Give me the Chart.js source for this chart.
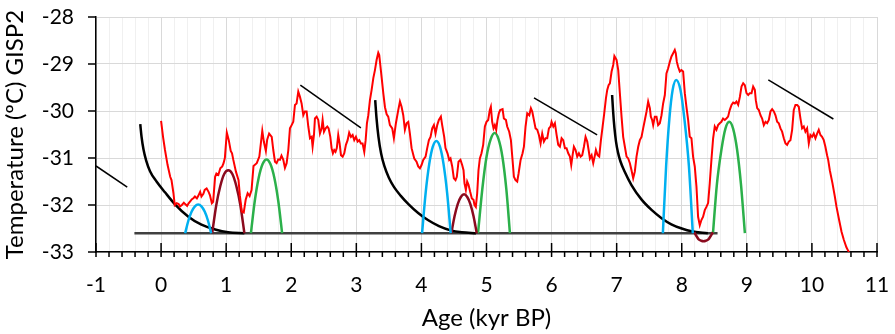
<!DOCTYPE html>
<html>
<head>
<meta charset="utf-8">
<script src="https://cdn.jsdelivr.net/npm/chart.js@4.4.1/dist/chart.umd.min.js"></script>
<style>
  html, body { margin: 0; padding: 0; background: #fff; }
  #wrap { width: 895px; height: 334px; }
</style>
</head>
<body>
<div id="wrap"><canvas id="chart" width="895" height="334"></canvas></div>
<script>
'use strict';

// axis ranges
const ageRange = [-1, 11];
const tempRange = [-33, -28];

// GISP2 temperature record (kyr BP, deg C)
const gispAge = [
  0.00, 0.03, 0.06, 0.10, 0.14, 0.16, 0.19, 0.21, 0.24, 0.27, 0.29, 0.32, 0.35, 0.37, 0.40, 0.42,
  0.45, 0.47, 0.50, 0.52, 0.55, 0.57, 0.60, 0.62, 0.65, 0.67, 0.70, 0.73, 0.75, 0.78, 0.80, 0.83,
  0.85, 0.88, 0.91, 0.94, 0.96, 0.98, 1.01, 1.04, 1.07, 1.09, 1.11, 1.15, 1.19, 1.21, 1.24, 1.27,
  1.30, 1.33, 1.36, 1.39, 1.42, 1.47, 1.51, 1.555, 1.58, 1.61, 1.63, 1.66, 1.70, 1.724, 1.75, 1.775,
  1.80, 1.826, 1.85, 1.878, 1.903, 1.929, 1.955, 1.98, 2.006, 2.031, 2.057, 2.082, 2.108, 2.134, 2.159, 2.185,
  2.21, 2.236, 2.262, 2.288, 2.313, 2.328, 2.349, 2.364, 2.39, 2.415, 2.441, 2.467, 2.482, 2.503, 2.528, 2.554,
  2.574, 2.60, 2.62, 2.64, 2.66, 2.68, 2.70, 2.722, 2.743, 2.764, 2.79, 2.815, 2.84, 2.866, 2.89, 2.917,
  2.943, 2.968, 2.994, 3.02, 3.045, 3.07, 3.096, 3.122, 3.143, 3.163, 3.184, 3.209, 3.235, 3.261, 3.286, 3.312,
  3.337, 3.352, 3.368, 3.39, 3.414, 3.44, 3.466, 3.49, 3.516, 3.552, 3.577, 3.608, 3.644, 3.670, 3.695, 3.721,
  3.746, 3.772, 3.798, 3.823, 3.849, 3.89, 3.925, 3.951, 3.977, 4.002, 4.028, 4.064, 4.089, 4.115, 4.14, 4.166,
  4.192, 4.217, 4.243, 4.268, 4.299, 4.319, 4.35, 4.37, 4.401, 4.427, 4.447, 4.473, 4.498, 4.524, 4.544, 4.57,
  4.60, 4.626, 4.647, 4.662, 4.683, 4.703, 4.724, 4.749, 4.775, 4.80, 4.816, 4.836, 4.857, 4.877, 4.898, 4.923,
  4.949, 4.975, 5.00, 5.026, 5.051, 5.067, 5.087, 5.108, 5.128, 5.149, 5.169, 5.19, 5.21, 5.247, 5.267, 5.298,
  5.318, 5.349, 5.375, 5.40, 5.421, 5.446, 5.472, 5.493, 5.524, 5.554, 5.575, 5.60, 5.626, 5.657, 5.682, 5.703,
  5.728, 5.754, 5.78, 5.805, 5.831, 5.856, 5.882, 5.908, 5.933, 5.959, 5.985, 6.00, 6.026, 6.051, 6.077, 6.102,
  6.128, 6.154, 6.179, 6.205, 6.23, 6.256, 6.282, 6.302, 6.323, 6.343, 6.369, 6.394, 6.42, 6.446, 6.471, 6.497,
  6.522, 6.548, 6.569, 6.589, 6.615, 6.64, 6.666, 6.681, 6.707, 6.732, 6.758, 6.784, 6.809, 6.835, 6.855, 6.876,
  6.896, 6.922, 6.947, 6.965, 6.998, 7.024, 7.049, 7.075, 7.10, 7.126, 7.152, 7.177, 7.203, 7.228, 7.254, 7.279,
  7.305, 7.331, 7.356, 7.382, 7.407, 7.433, 7.459, 7.484, 7.51, 7.525, 7.545, 7.561, 7.586, 7.612, 7.637, 7.663,
  7.689, 7.714, 7.74, 7.765, 7.791, 7.817, 7.842, 7.868, 7.893, 7.908, 7.924, 7.944, 7.97, 7.995, 8.021, 8.047,
  8.072, 8.098, 8.123, 8.149, 8.174, 8.20, 8.226, 8.251, 8.277, 8.302, 8.328, 8.354, 8.379, 8.405, 8.43, 8.456,
  8.482, 8.507, 8.533, 8.558, 8.584, 8.609, 8.635, 8.661, 8.686, 8.712, 8.737, 8.765, 8.79, 8.816, 8.841, 8.867,
  8.893, 8.918, 8.944, 8.969, 8.995, 9.021, 9.046, 9.072, 9.097, 9.123, 9.138, 9.159, 9.184, 9.21, 9.235, 9.261,
  9.287, 9.312, 9.338, 9.363, 9.389, 9.415, 9.44, 9.466, 9.491, 9.517, 9.542, 9.568, 9.594, 9.619, 9.645, 9.67,
  9.696, 9.721, 9.747, 9.773, 9.798, 9.824, 9.849, 9.875, 9.90, 9.926, 9.952, 9.977, 10.003, 10.028, 10.054, 10.08,
  10.105, 10.131, 10.156, 10.182, 10.207, 10.233, 10.25, 10.275, 10.316, 10.352, 10.378, 10.418, 10.455, 10.49, 10.53, 10.556,
  10.57
];
const gispTemp = [
  -30.21, -30.55, -30.83, -31.15, -31.40, -31.47, -31.75, -32.00, -31.96, -31.98, -32.03, -32.00, -31.95, -31.98, -32.02, -31.97,
  -31.92, -31.88, -31.85, -31.82, -31.86, -31.81, -31.72, -31.82, -31.76, -31.68, -31.65, -31.72, -31.79, -31.96, -31.93, -31.40,
  -31.33, -31.36, -31.22, -31.18, -31.11, -31.00, -30.46, -30.62, -30.85, -30.90, -31.04, -31.29, -31.47, -31.79, -32.14, -32.16,
  -31.89, -31.75, -31.81, -31.68, -31.17, -31.11, -30.97, -30.42, -30.66, -30.85, -30.61, -30.48, -30.55, -30.83, -31.08, -31.11,
  -31.03, -31.04, -30.95, -31.04, -31.21, -31.11, -30.83, -30.37, -30.30, -30.23, -29.87, -29.84, -29.59, -29.70, -29.84, -30.09,
  -30.01, -30.01, -30.33, -30.58, -30.55, -30.76, -30.51, -30.16, -30.12, -30.19, -30.48, -30.37, -30.19, -30.44, -30.37, -30.33,
  -30.37, -30.55, -30.79, -30.90, -30.83, -30.87, -30.79, -30.51, -30.69, -30.94, -30.97, -30.90, -30.72, -30.62, -30.46, -30.55,
  -30.51, -30.62, -30.55, -30.65, -30.62, -30.69, -30.69, -30.87, -30.62, -30.26, -30.09, -29.77, -29.55, -29.30, -29.13, -28.91,
  -28.76, -28.81, -29.02, -29.30, -29.62, -29.92, -30.07, -30.12, -30.30, -30.37, -30.58, -30.26, -29.98, -29.80, -29.91, -30.09,
  -30.40, -30.26, -30.23, -30.48, -30.79, -31.01, -31.08, -31.18, -31.22, -31.15, -31.04, -30.97, -30.79, -30.62, -30.55, -30.37,
  -30.30, -30.48, -30.30, -30.19, -30.12, -30.30, -30.55, -30.79, -30.90, -31.04, -31.01, -31.18, -31.43, -31.47, -31.40, -31.08,
  -31.04, -31.15, -31.26, -31.54, -31.68, -31.50, -31.57, -31.72, -31.86, -31.89, -32.00, -32.04, -31.75, -31.26, -31.01, -30.90,
  -30.72, -30.33, -30.23, -30.19, -29.98, -29.91, -30.23, -30.37, -30.30, -30.40, -30.19, -30.05, -29.98, -29.96, -30.16, -30.19,
  -30.33, -30.44, -30.62, -31.04, -31.40, -31.47, -31.50, -31.33, -31.04, -30.90, -30.76, -30.33, -30.05, -30.09, -29.94, -30.01,
  -30.19, -30.37, -30.40, -30.51, -30.69, -30.48, -30.65, -30.58, -30.58, -30.37, -30.33, -30.23, -30.33, -30.26, -30.51, -30.72,
  -30.76, -30.58, -30.62, -30.79, -30.79, -30.90, -30.97, -31.15, -30.94, -30.76, -30.83, -30.97, -30.90, -30.97, -30.94, -30.76,
  -30.55, -30.65, -30.83, -31.01, -30.94, -31.11, -30.94, -30.83, -30.94, -30.97, -30.62, -30.33, -30.05, -29.73, -29.55, -29.45,
  -29.41, -29.16, -29.02, -28.83, -28.91, -29.13, -29.62, -30.12, -30.55, -30.76, -30.97, -31.01, -31.11, -31.26, -31.43, -31.29,
  -30.97, -30.76, -30.62, -30.55, -30.37, -30.19, -30.01, -29.80, -29.94, -30.12, -30.19, -30.30, -30.12, -30.12, -30.30, -30.26,
  -30.09, -29.84, -29.66, -29.20, -29.09, -28.95, -28.84, -28.77, -28.70, -28.77, -28.95, -29.06, -29.16, -29.13, -29.16, -29.62,
  -29.91, -30.19, -30.55, -30.58, -30.97, -31.18, -31.61, -32.25, -32.43, -32.32, -32.25, -32.11, -32.04, -31.96, -31.54, -31.04,
  -30.58, -30.33, -30.40, -30.30, -30.26, -30.23, -30.16, -30.19, -30.16, -30.12, -29.98, -29.87, -29.82, -29.84, -29.80, -29.87,
  -29.70, -29.48, -29.41, -29.45, -29.62, -29.66, -29.62, -29.62, -29.48, -29.55, -29.77, -29.94, -29.98, -30.09, -30.16, -30.30,
  -30.23, -30.26, -30.19, -30.01, -29.96, -30.01, -30.09, -30.23, -30.26, -30.37, -30.44, -30.58, -30.69, -30.72, -30.65, -30.62,
  -30.40, -29.98, -29.87, -29.87, -29.91, -30.16, -30.37, -30.33, -30.44, -30.37, -30.69, -30.51, -30.55, -30.48, -30.58, -30.48,
  -30.40, -30.51, -30.55, -30.62, -30.76, -30.94, -31.04, -31.26, -31.54, -31.82, -32.04, -32.32, -32.57, -32.74, -32.90, -32.97,
  -33.00
];

// cooling decay curves after each warm peak
const decay1 = [[-0.32, -30.28], [-0.30, -30.55], [-0.27, -30.82], [-0.23, -31.05], [-0.17, -31.28], [-0.07, -31.50],
  [0.06, -31.73], [0.21, -31.98], [0.42, -32.25], [0.62, -32.42], [0.83, -32.52], [1.03, -32.58], [1.28, -32.60]];
const decay2 = [[3.29, -29.77], [3.31, -30.15], [3.34, -30.55], [3.38, -30.90], [3.43, -31.17], [3.50, -31.42],
  [3.58, -31.62], [3.68, -31.80], [3.80, -31.98], [3.95, -32.17], [4.10, -32.32], [4.27, -32.45], [4.45, -32.54],
  [4.62, -32.58], [4.84, -32.60]];
const decay3 = [[6.93, -29.66], [6.945, -30.00], [6.965, -30.35], [6.99, -30.65], [7.02, -30.88], [7.06, -31.08],
  [7.12, -31.28], [7.23, -31.58], [7.38, -31.88], [7.54, -32.11], [7.69, -32.28], [7.84, -32.41], [8.00, -32.50],
  [8.15, -32.56], [8.40, -32.60]];

// baseline and trend segments
const baseline = [[-0.41, -32.6], [8.55, -32.6]];
const trend1 = [[-1.0, -31.17], [-0.52, -31.62]];
const trend2 = [[2.14, -29.45], [3.07, -30.36]];
const trend3 = [[5.73, -29.72], [6.70, -30.51]];
const trend4 = [[9.33, -29.34], [10.33, -30.17]];

// warm pulses
const blueArc1 = [[0.37, -32.60], [0.42, -32.33], [0.47, -32.14], [0.52, -32.03], [0.57, -31.99], [0.62, -32.03], [0.67, -32.14], [0.72, -32.33], [0.77, -32.60]];
const blueArc2 = [[4.01, -32.60], [4.065, -31.74], [4.12, -31.13], [4.175, -30.76], [4.23, -30.64], [4.285, -30.76], [4.34, -31.13], [4.395, -31.74], [4.45, -32.60]];
const blueArc3 = [[7.71, -32.60], [7.76, -31.17], [7.81, -30.16], [7.86, -29.55], [7.915, -29.34], [7.98, -29.55], [8.04, -30.16], [8.11, -31.17], [8.17, -32.60]];
const maroonArc1 = [[0.785, -32.60], [0.847, -32.01], [0.909, -31.60], [0.97, -31.34], [1.033, -31.26], [1.095, -31.34], [1.157, -31.60], [1.219, -32.01], [1.28, -32.60]];
const maroonArc2 = [[4.46, -32.60], [4.509, -32.24], [4.558, -31.98], [4.606, -31.83], [4.655, -31.77], [4.704, -31.83], [4.752, -31.98], [4.801, -32.24], [4.85, -32.60]];
const maroonArc3 = [[8.19, -32.58], [8.23, -32.67], [8.26, -32.73], [8.30, -32.76], [8.335, -32.77], [8.37, -32.76], [8.41, -32.73], [8.44, -32.67], [8.48, -32.58]];
const greenArc1 = [[1.38, -32.60], [1.44, -31.91], [1.50, -31.42], [1.56, -31.13], [1.62, -31.03], [1.68, -31.13], [1.74, -31.42], [1.80, -31.91], [1.86, -32.60]];
const greenArc2 = [[4.87, -32.60], [4.935, -31.67], [5.0, -30.98], [5.065, -30.60], [5.125, -30.47], [5.185, -30.60], [5.245, -30.98], [5.305, -31.67], [5.36, -32.60]];
const greenArc3 = [[8.48, -32.60], [8.54, -31.56], [8.61, -30.82], [8.67, -30.38], [8.73, -30.23], [8.79, -30.38], [8.85, -30.82], [8.91, -31.56], [8.97, -32.60]];

const FONT = 'Lato, "Open Sans", sans-serif';
const isWhole = v => Math.abs(v - Math.round(v)) < 1e-6;

function pts(pairs) {
    return pairs.map(p => ({ x: p[0], y: p[1] }));
}

function line(data, color, width, smooth) {
    return {
        data: data,
        showLine: true,
        borderColor: color,
        backgroundColor: color,
        borderWidth: width,
        pointRadius: 0,
        fill: false,
        cubicInterpolationMode: smooth ? 'monotone' : 'default',
        tension: 0
    };
}

// draws Excel-style tick marks: major ones cross the x axis
const tickMarks = {
    id: 'tickMarks',
    afterDraw(chart) {
        const { ctx, chartArea, scales: { x, y } } = chart;
        ctx.save();
        ctx.strokeStyle = '#000';
        ctx.lineWidth = 1.5;
        ctx.beginPath();
        x.ticks.forEach(t => {
            const px = x.getPixelForValue(t.value);
            ctx.moveTo(px, chartArea.bottom + 5);
            ctx.lineTo(px, isWhole(t.value) ? chartArea.bottom - 9 : chartArea.bottom);
        });
        y.ticks.forEach(t => {
            const py = y.getPixelForValue(t.value);
            ctx.moveTo(chartArea.left - 8, py);
            ctx.lineTo(chartArea.left, py);
        });
        ctx.stroke();
        ctx.restore();
    }
};

function renderChart() {
    const redData = gispAge.map((a, i) => ({ x: a, y: gispTemp[i] }));

    const datasets = [
        line(redData, '#FF0000', 2, false),
        line(pts(blueArc1), '#00B0F0', 2.5, true),
        line(pts(blueArc2), '#00B0F0', 2.5, true),
        line(pts(blueArc3), '#00B0F0', 2.5, true),
        line(pts(maroonArc1), '#8B0A1E', 2.5, true),
        line(pts(maroonArc2), '#8B0A1E', 2.5, true),
        line(pts(maroonArc3), '#8B0A1E', 2.5, true),
        line(pts(greenArc1), '#2BB04A', 2.5, true),
        line(pts(greenArc2), '#2BB04A', 2.5, true),
        line(pts(greenArc3), '#2BB04A', 2.5, true),
        line(pts(decay1), '#000', 2.5, true),
        line(pts(decay2), '#000', 2.5, true),
        line(pts(decay3), '#000', 2.5, true),
        line(pts(trend1), '#000', 1.5, false),
        line(pts(trend2), '#000', 1.5, false),
        line(pts(trend3), '#000', 1.5, false),
        line(pts(trend4), '#000', 1.5, false),
        line(pts(baseline), '#404040', 2.5, false)
    ];

    const config = {
        type: 'scatter',
        data: { datasets: datasets },
        options: {
            responsive: false,
            animation: false,
            events: [],
            layout: { padding: { top: 17, right: 18, left: 0, bottom: 0 } },
            plugins: { legend: { display: false }, tooltip: { enabled: false } },
            scales: {
                x: {
                    type: 'linear',
                    min: ageRange[0],
                    max: ageRange[1],
                    afterFit(scale) {
                        scale.height = 82;
                        scale.paddingLeft = 0;
                        scale.paddingRight = 0;
                    },
                    border: { display: true, color: '#000', width: 1.5 },
                    grid: {
                        drawTicks: false,
                        color: ctx => isWhole(ctx.tick.value) ? '#D9D9D9' : '#F0F0F0',
                        lineWidth: 1
                    },
                    ticks: {
                        stepSize: 0.2,
                        autoSkip: false,
                        maxRotation: 0,
                        padding: 21,
                        color: '#000',
                        font: { family: FONT, size: 21 },
                        callback: v => isWhole(v) ? String(Math.round(v)) : ''
                    },
                    title: {
                        display: true,
                        text: 'Age (kyr BP)',
                        color: '#000',
                        font: { family: FONT, size: 24 },
                        padding: { top: 0, bottom: 1 }
                    }
                },
                y: {
                    type: 'linear',
                    min: tempRange[0],
                    max: tempRange[1],
                    afterFit(scale) {
                        scale.width = 96;
                        scale.paddingTop = 0;
                        scale.paddingBottom = 0;
                    },
                    border: { display: true, color: '#000', width: 1.5 },
                    grid: { drawTicks: false, color: '#D9D9D9', lineWidth: 1 },
                    ticks: {
                        stepSize: 1,
                        padding: 22,
                        color: '#000',
                        font: { family: FONT, size: 21 }
                    },
                    title: {
                        display: true,
                        text: 'Temperature (ºC) GISP2',
                        color: '#000',
                        font: { family: FONT, size: 24 },
                        padding: { top: 1, bottom: 0 }
                    }
                }
            }
        },
        plugins: [tickMarks]
    };

    new Chart(document.getElementById('chart'), config);
}

document.addEventListener('DOMContentLoaded', renderChart);
</script>
</body>
</html>
